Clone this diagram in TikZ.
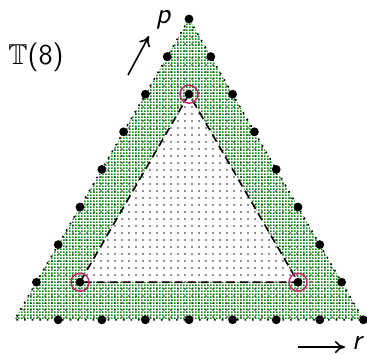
\documentclass[tikz,border=0pt]{standalone}
\usepackage{amssymb}
\usetikzlibrary{arrows.meta,patterns}
\definecolor{leaf}{RGB}{10,140,10}
\definecolor{ring}{RGB}{200,30,110}
\pgfdeclarepatternformonly{finedots}{\pgfpointorigin}{\pgfpoint{1.5pt}{1.5pt}}{\pgfpoint{1.5pt}{1.5pt}}{\pgfpathrectangle{\pgfpointorigin}{\pgfpoint{1pt}{1pt}}\pgfusepath{fill}}
\pgfdeclarepatternformonly{sparsedots}{\pgfpointorigin}{\pgfpoint{3.5pt}{3.5pt}}{\pgfpoint{3.5pt}{3.5pt}}{\pgfpathrectangle{\pgfpoint{1.4pt}{1.4pt}}{\pgfpoint{0.7pt}{0.7pt}}\pgfusepath{fill}}

\begin{document}
\begin{tikzpicture}[x=0.5pt,y=-0.5pt,font=\sffamily,
  latdot/.style={circle,fill=black,inner sep=0pt,minimum size=4.4pt},
  markring/.style={circle,draw=ring,line width=0.7pt,inner sep=0pt,minimum size=9pt}]
\useasboundingbox (0,0) rectangle (367,354);
% lattice points of T(8)
\foreach \j in {0,...,8}{\foreach \k in {0,...,\j}{\coordinate (v\j-\k) at ({189+(2*\k-\j)*21.8},{19+\j*37.6});}}
% shaded regions
\fill[pattern=finedots,pattern color=leaf,even odd rule] (v0-0)--(v8-0)--(v8-8)--cycle (v2-1)--(v7-1)--(v7-6)--cycle;
\fill[pattern=sparsedots] (v0-0)--(v8-0)--(v8-8)--cycle;
\draw[line width=0.8pt,dash pattern=on 0.8pt off 3pt] (v0-0)--(v8-0)--(v8-8)--cycle;
\draw[line width=0.8pt,dash pattern=on 4pt off 2.5pt] (v2-1)--(v7-1)--(v7-6)--cycle;
% boundary points
\node[latdot] (a0) at (v0-0) {};
\foreach \j in {1,...,7}{
  \node[latdot] (l\j) at (v\j-0) {};
  \node[latdot] (r\j) at (v\j-\j) {};
}
\foreach \k in {1,...,8}{\node[latdot] (b\k) at (v8-\k) {};}
% marked corners
\foreach \c/\id in {v2-1/1,v7-1/2,v7-6/3}{
  \node[latdot] (c\id) at (\c) {};
  \node[markring] (m\id) at (\c) {};
}
% labels and axis arrows
\node (title) at (36,57) {\Large$\mathbb{T}$(8)};
\coordinate (ptail) at (128,75);
\coordinate (phead) at (149,36);
\draw[line width=0.8pt,-{To[length=5pt,width=6pt]}] (ptail)--(phead);
\node (plabel) at (163,20) {\Large\itshape p};
\coordinate (rtail) at (298,347);
\coordinate (rhead) at (345,347);
\draw[line width=0.8pt,-{To[length=5pt,width=6pt]}] (rtail)--(rhead);
\node (rlabel) at (357,343) {\Large\itshape r};
\end{tikzpicture}
\end{document}
